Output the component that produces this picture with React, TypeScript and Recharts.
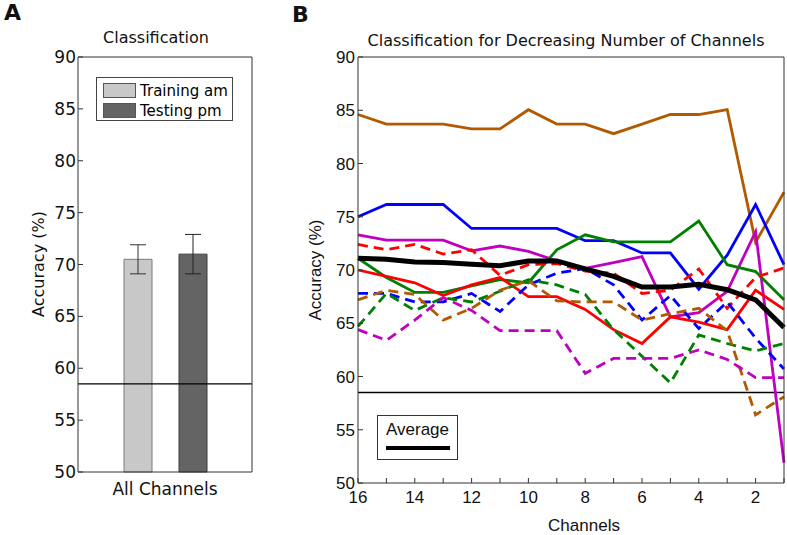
import React from "react";
import {
  BarChart,
  Bar,
  ErrorBar,
  LineChart,
  Line,
  XAxis,
  YAxis,
  ReferenceLine,
  Legend,
} from "recharts";

// panel A
const barCategories = ["All Channels"];
const barNames = ["Training am", "Testing pm"];
const trainingAm = [70.5];
const trainingErr = [1.4];
const testingPm = [71.0];
const testingErr = [1.9];

// panel B, channels 16 -> 1
const channels = [16, 15, 14, 13, 12, 11, 10, 9, 8, 7, 6, 5, 4, 3, 2, 1];
const brownSolid = [84.6, 83.7, 83.7, 83.7, 83.25, 83.25, 85.05, 83.7, 83.7, 82.8, 83.7, 84.6, 84.6, 85.05, 72.6, 77.3];
const blueSolid = [75.0, 76.15, 76.15, 76.15, 73.9, 73.9, 73.9, 73.9, 72.75, 72.75, 71.6, 71.6, 68.2, 71.4, 76.15, 70.5];
const magentaSolid = [73.3, 72.8, 72.8, 72.8, 71.8, 72.25, 71.75, 70.85, 70.15, 70.7, 71.25, 65.6, 66.0, 68.0, 73.6, 51.9];
const greenSolid = [71.1, 69.3, 67.9, 67.9, 68.5, 69.1, 68.8, 71.9, 73.3, 72.65, 72.65, 72.65, 74.6, 70.5, 69.85, 67.2];
const redSolid = [70.0, 69.4, 68.8, 67.6, 68.6, 69.3, 67.5, 67.5, 66.3, 64.4, 63.1, 65.6, 65.1, 64.4, 68.1, 66.3];
const redDashed = [72.4, 71.9, 72.4, 71.5, 71.9, 69.5, 70.5, 70.6, 69.9, 69.7, 67.8, 68.1, 70.1, 66.4, 69.3, 70.2];
const blueDashed = [67.8, 67.8, 67.0, 67.0, 67.8, 66.1, 68.6, 69.7, 70.15, 68.6, 65.3, 67.6, 64.5, 67.0, 63.6, 60.7];
const greenDashed = [64.7, 67.8, 66.2, 67.4, 67.0, 68.0, 69.1, 68.6, 67.7, 64.4, 61.9, 59.4, 63.9, 63.1, 62.4, 63.1];
const brownDashed = [67.2, 68.1, 67.7, 65.3, 66.4, 68.1, 69.0, 67.1, 67.0, 67.0, 65.3, 65.9, 66.4, 64.3, 56.4, 58.1];
const magentaDashed = [64.4, 63.4, 65.3, 67.4, 66.2, 64.3, 64.3, 64.3, 60.3, 61.7, 61.7, 61.7, 62.5, 61.6, 59.9, 59.9];
const average = [71.1, 71.0, 70.75, 70.7, 70.55, 70.4, 70.85, 70.85, 70.1, 69.4, 68.4, 68.4, 68.65, 68.15, 67.2, 64.6];

const yTicks = [50, 55, 60, 65, 70, 75, 80, 85, 90];
const chanceLevel = 58.5;

const series = [
  { key: "brownSolid", values: brownSolid, color: "#b35900", dashed: false },
  { key: "blueSolid", values: blueSolid, color: "#0000ff", dashed: false },
  { key: "magentaSolid", values: magentaSolid, color: "#bf00bf", dashed: false },
  { key: "greenSolid", values: greenSolid, color: "#008000", dashed: false },
  { key: "redSolid", values: redSolid, color: "#ff0000", dashed: false },
  { key: "redDashed", values: redDashed, color: "#ff0000", dashed: true },
  { key: "blueDashed", values: blueDashed, color: "#0000ff", dashed: true },
  { key: "greenDashed", values: greenDashed, color: "#008000", dashed: true },
  { key: "brownDashed", values: brownDashed, color: "#b35900", dashed: true },
  { key: "magentaDashed", values: magentaDashed, color: "#bf00bf", dashed: true },
];

const barData = barCategories.map((c, i) => ({
  name: c,
  train: trainingAm[i],
  trainErr: trainingErr[i],
  test: testingPm[i],
  testErr: testingErr[i],
}));

const lineData = channels.map((ch, i) => {
  const row: Record<string, number> = { ch, avg: average[i] };
  series.forEach((s) => (row[s.key] = s.values[i]));
  return row;
});

const FONT_A = "DejaVu Sans, sans-serif";
const FONT_B = "Liberation Sans, Arial, sans-serif";
const AX = "#333";

const abs = (left: number, top: number, extra: React.CSSProperties = {}): React.CSSProperties => ({
  position: "absolute",
  left,
  top,
  whiteSpace: "nowrap",
  color: "#111",
  ...extra,
});

function LegendA(props: any) {
  const payload = [...(props.payload || [])].sort(
    (a: any, b: any) => barNames.indexOf(a.value) - barNames.indexOf(b.value)
  );
  return (
    <div
      style={{
        border: "1px solid #444",
        background: "#fff",
        width: 137,
        height: 44,
        boxSizing: "border-box",
        padding: "3px 0 0 6px",
        fontFamily: FONT_A,
        fontSize: 15,
      }}
    >
      {payload.map((p: any) => (
        <div key={p.value} style={{ display: "flex", alignItems: "center", height: 19, marginBottom: 1 }}>
          <span
            style={{
              display: "inline-block",
              width: 33,
              height: 15,
              background: p.color,
              border: "1px solid #555",
              boxSizing: "border-box",
              marginRight: 4,
            }}
          />
          <span>{p.value}</span>
        </div>
      ))}
    </div>
  );
}

function LegendB(props: any) {
  const payload = (props.payload || []).filter((p: any) => p.dataKey === "avg");
  return (
    <div
      style={{
        border: "1px solid #333",
        background: "#fff",
        width: 81,
        height: 45,
        boxSizing: "border-box",
        fontFamily: FONT_B,
        fontSize: 17,
        position: "relative",
      }}
    >
      {payload.map((p: any) => (
        <React.Fragment key={p.value}>
          <div style={{ position: "absolute", left: 8, top: 4, color: "#111" }}>{p.value}</div>
          <div style={{ position: "absolute", left: 8, top: 30, width: 64, height: 4, background: p.color }} />
        </React.Fragment>
      ))}
    </div>
  );
}

export default function App() {
  const tickA = { fontSize: 17, fontFamily: FONT_A, fill: "#111" };
  const tickB = { fontSize: 17, fontFamily: FONT_B, fill: "#111" };
  return (
    <div style={{ position: "absolute", left: 0, top: 0, width: 787, height: 535, background: "#fff", overflow: "hidden" }}>
      {/* panel A */}
      <div style={abs(4, 0, { fontFamily: FONT_A, fontWeight: "bold", fontSize: 22 })}>A</div>
      <div style={abs(156, 37, { fontFamily: FONT_A, fontSize: 16, transform: "translate(-50%,-50%)" })}>Classification</div>
      <div style={abs(38, 264, { fontFamily: FONT_A, fontSize: 16, transform: "translate(-50%,-50%) rotate(-90deg)" })}>
        Accuracy (%)
      </div>
      <div style={{ position: "absolute", left: 0, top: 0 }}>
        <BarChart width={270} height={535} data={barData} margin={{ top: 47, left: 28, right: 8, bottom: 33 }} barGap={27} barSize={28}>
          <XAxis dataKey="name" height={30} tickLine={false} tick={tickA} tickMargin={5} axisLine={{ stroke: AX }} />
          <XAxis xAxisId="top" orientation="top" dataKey="name" height={10} tick={false} tickLine={false} axisLine={{ stroke: AX }} />
          <YAxis
            domain={[50, 90]}
            ticks={yTicks}
            interval={0}
            width={50}
            tickSize={-5}
            tickMargin={7}
            tick={tickA}
            tickLine={{ stroke: AX }}
            axisLine={{ stroke: AX }}
          />
          <YAxis yAxisId="right" orientation="right" domain={[50, 90]} ticks={yTicks} interval={0} width={10} tickSize={-5} tick={false} tickLine={{ stroke: AX }} axisLine={{ stroke: AX }} />
          <Bar dataKey="train" name={barNames[0]} fill="#c8c8c8" stroke="#7a7a7a" strokeWidth={1} isAnimationActive={false}>
            <ErrorBar dataKey="trainErr" width={8} stroke="#333" strokeWidth={1} direction="y" />
          </Bar>
          <Bar dataKey="test" name={barNames[1]} fill="#646464" stroke="#3c3c3c" strokeWidth={1} isAnimationActive={false}>
            <ErrorBar dataKey="testErr" width={8} stroke="#222" strokeWidth={1} direction="y" />
          </Bar>
          <ReferenceLine y={chanceLevel} stroke="#000" strokeWidth={1.3} />
          <Legend
            layout="horizontal"
            verticalAlign="middle"
            align="center"
            content={LegendA}
            wrapperStyle={{ position: "absolute", left: 96, top: 77, width: 137, height: 44 }}
          />
        </BarChart>
      </div>

      {/* panel B */}
      <div style={abs(292, 2, { fontFamily: FONT_A, fontWeight: "bold", fontSize: 22 })}>B</div>
      <div style={abs(566, 40, { fontFamily: FONT_A, fontSize: 16, transform: "translate(-50%,-50%)" })}>
        Classification for Decreasing Number of Channels
      </div>
      <div style={abs(316, 270, { fontFamily: FONT_B, fontSize: 17, transform: "translate(-50%,-50%) rotate(-90deg)" })}>
        Accuracy (%)
      </div>
      <div style={abs(584, 526, { fontFamily: FONT_B, fontSize: 17, transform: "translate(-50%,-50%)" })}>Channels</div>
      <div style={{ position: "absolute", left: 290, top: 0 }}>
        <LineChart width={497} height={535} data={lineData} margin={{ top: 47, left: 28, right: 0, bottom: 22 }}>
          <XAxis
            dataKey="ch"
            type="number"
            domain={[1, 16]}
            reversed
            ticks={channels}
            interval={0}
            height={30}
            tickSize={-5}
            tickMargin={13}
            tick={tickB}
            tickFormatter={(v: number) => (v % 2 === 0 ? String(v) : "")}
            tickLine={{ stroke: AX }}
            axisLine={{ stroke: AX }}
          />
          <XAxis
            xAxisId="top"
            orientation="top"
            dataKey="ch"
            type="number"
            domain={[1, 16]}
            reversed
            ticks={channels}
            interval={0}
            height={10}
            tickSize={-5}
            tick={false}
            tickLine={{ stroke: AX }}
            axisLine={{ stroke: AX }}
          />
          <YAxis
            domain={[50, 90]}
            ticks={yTicks}
            interval={0}
            width={40}
            tickSize={-5}
            tickMargin={8}
            tick={tickB}
            tickLine={{ stroke: AX }}
            axisLine={{ stroke: AX }}
          />
          <YAxis yAxisId="right" orientation="right" domain={[50, 90]} ticks={yTicks} interval={0} width={3} tickSize={-5} tick={false} tickLine={{ stroke: AX }} axisLine={{ stroke: AX }} />
          <ReferenceLine y={chanceLevel} stroke="#000" strokeWidth={1.3} />
          {series.map((s) => (
            <Line
              key={s.key}
              dataKey={s.key}
              stroke={s.color}
              strokeWidth={2.8}
              strokeDasharray={s.dashed ? "10 6" : undefined}
              dot={false}
              legendType="none"
              isAnimationActive={false}
            />
          ))}
          <Line dataKey="avg" name="Average" stroke="#000" strokeWidth={5} dot={false} isAnimationActive={false} />
          <Legend
            layout="horizontal"
            verticalAlign="middle"
            align="center"
            content={LegendB}
            wrapperStyle={{ position: "absolute", left: 87, top: 415, width: 81, height: 45 }}
          />
        </LineChart>
      </div>
    </div>
  );
}
